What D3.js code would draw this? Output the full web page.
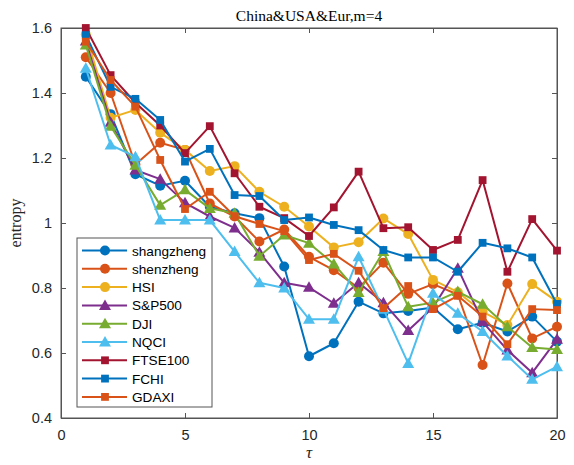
<!DOCTYPE html>
<html>
<head>
<meta charset="utf-8">
<script src="https://cdn.jsdelivr.net/npm/d3@7"></script>
<style>
  body { margin: 0; background: #fff; }
</style>
</head>
<body>
<div id="chart"></div>
<script>
// tau = 1..20
var taus = d3.range(1, 21);
var names = ["shangzheng", "shenzheng", "HSI", "S&P500", "DJI", "NQCI", "FTSE100", "FCHI", "GDAXI"];
var shangzheng = [1.45, 1.335, 1.15, 1.115, 1.13, 1.05, 1.03, 1.015, 0.866, 0.59, 0.63, 0.758, 0.722, 0.729, 0.74, 0.673, 0.693, 0.666, 0.712, 0.635];
var shenzheng = [1.51, 1.40, 1.18, 1.247, 1.225, 1.06, 1.02, 0.943, 0.98, 0.896, 0.855, 0.80, 0.878, 0.782, 0.812, 0.78, 0.563, 0.814, 0.645, 0.681];
var hsi = [1.58, 1.324, 1.348, 1.278, 1.225, 1.16, 1.175, 1.096, 1.05, 0.989, 0.925, 0.941, 1.014, 0.966, 0.825, 0.787, 0.727, 0.686, 0.812, 0.758];
var sp500 = [1.56, 1.31, 1.163, 1.135, 1.062, 1.02, 0.985, 0.91, 0.816, 0.802, 0.753, 0.816, 0.755, 0.669, 0.74, 0.861, 0.696, 0.609, 0.539, 0.642];
var dji = [1.548, 1.298, 1.178, 1.055, 1.102, 1.045, 1.03, 0.898, 0.963, 0.938, 0.874, 0.786, 0.912, 0.742, 0.755, 0.789, 0.75, 0.681, 0.617, 0.611];
var nqci = [1.476, 1.24, 1.204, 1.009, 1.009, 1.009, 0.912, 0.816, 0.80, 0.704, 0.704, 0.896, 0.735, 0.568, 0.784, 0.722, 0.666, 0.591, 0.519, 0.558];
var ftse100 = [1.60, 1.455, 1.37, 1.30, 1.215, 1.298, 1.153, 1.05, 1.015, 0.96, 1.048, 1.158, 0.984, 0.987, 0.917, 0.948, 1.132, 0.85, 1.012, 0.915];
var fchi = [1.578, 1.419, 1.382, 1.317, 1.189, 1.228, 1.086, 1.083, 1.009, 1.017, 0.994, 0.978, 0.917, 0.894, 0.894, 0.85, 0.939, 0.922, 0.894, 0.751];
var gdaxi = [1.558, 1.44, 1.358, 1.194, 1.043, 1.096, 1.021, 0.997, 0.975, 0.886, 0.905, 0.853, 0.738, 0.806, 0.735, 0.776, 0.712, 0.627, 0.735, 0.732];
var xTicks = [0, 5, 10, 15, 20];
var yTicks = [0.4, 0.6, 0.8, 1, 1.2, 1.4, 1.6];

var values = [shangzheng, shenzheng, hsi, sp500, dji, nqci, ftse100, fchi, gdaxi];
var colors = ["#0072BD", "#D95319", "#EDB120", "#7E2F8E", "#77AC30", "#4DBEEE", "#A2142F", "#0072BD", "#D95319"];
var shapes = ["circle", "circle", "circle", "triangle", "triangle", "triangle", "square", "square", "square"];

var width = 574, height = 465;
var margin = {top: 28, left: 61, right: 17, bottom: 47};
var w = width - margin.left - margin.right;
var h = height - margin.top - margin.bottom;

var x = d3.scaleLinear().domain([0, 20]).range([margin.left, margin.left + w]);
var y = d3.scaleLinear().domain([0.4, 1.6]).range([margin.top + h, margin.top]);

var svg = d3.select("#chart").append("svg")
    .attr("width", width)
    .attr("height", height);

var axisColor = "#555";
var tickFont = "'Liberation Sans', Arial, sans-serif";

// box + ticks (inward, all four sides)
svg.append("rect")
    .attr("x", margin.left).attr("y", margin.top)
    .attr("width", w).attr("height", h)
    .attr("fill", "none").attr("stroke", axisColor).attr("stroke-width", 1);

var xAxis = svg.append("g")
    .attr("transform", "translate(0," + (margin.top + h) + ")")
    .call(d3.axisBottom(x).tickValues(xTicks).tickSizeInner(-5).tickSizeOuter(0).tickPadding(12));
var xAxisTop = svg.append("g")
    .attr("transform", "translate(0," + margin.top + ")")
    .call(d3.axisTop(x).tickValues(xTicks).tickSizeInner(-5).tickSizeOuter(0).tickFormat(""));
var yAxis = svg.append("g")
    .attr("transform", "translate(" + margin.left + ",0)")
    .call(d3.axisLeft(y).tickValues(yTicks).tickSizeInner(-5).tickSizeOuter(0).tickPadding(9)
      .tickFormat(function (d) { return d3.format("")(+d.toFixed(1)); }));
var yAxisRight = svg.append("g")
    .attr("transform", "translate(" + (margin.left + w) + ",0)")
    .call(d3.axisRight(y).tickValues(yTicks).tickSizeInner(-5).tickSizeOuter(0).tickFormat(""));

[xAxis, xAxisTop, yAxis, yAxisRight].forEach(function (g) {
  g.select(".domain").attr("stroke", axisColor);
  g.selectAll(".tick line").attr("stroke", axisColor);
  g.selectAll("text")
      .attr("font-family", tickFont)
      .attr("font-size", "14.5px")
      .attr("fill", "#262626");
});

// title & labels
svg.append("text")
    .attr("x", margin.left + w / 2).attr("y", 21)
    .attr("text-anchor", "middle")
    .attr("font-family", "'Liberation Serif', 'Times New Roman', serif")
    .attr("font-size", "15.5px")
    .attr("fill", "#000")
    .text("China&USA&Eur,m=4");

svg.append("text")
    .attr("transform", "translate(21," + (margin.top + h / 2) + ") rotate(-90)")
    .attr("text-anchor", "middle")
    .attr("font-family", "'Liberation Serif', 'Times New Roman', serif")
    .attr("font-size", "16px")
    .attr("fill", "#262626")
    .text("entropy");

svg.append("text")
    .attr("x", margin.left + w / 2).attr("y", 458)
    .attr("text-anchor", "middle")
    .attr("font-family", "'Liberation Serif', 'Times New Roman', serif")
    .attr("font-style", "italic")
    .attr("font-size", "17px")
    .attr("fill", "#262626")
    .text("τ");

// markers
function drawMarker(g, shape, cx, cy, color) {
  if (shape === "circle") {
    g.append("circle").attr("cx", cx).attr("cy", cy).attr("r", 5).attr("fill", color);
  } else if (shape === "square") {
    g.append("rect").attr("x", cx - 3.9).attr("y", cy - 3.9).attr("width", 7.8).attr("height", 7.8).attr("fill", color);
  } else {
    var s = 6;
    g.append("path")
        .attr("d", "M" + cx + "," + (cy - s) + "L" + (cx + s) + "," + (cy + s * 0.75) + "L" + (cx - s) + "," + (cy + s * 0.75) + "Z")
        .attr("fill", color);
  }
}

var line = d3.line()
    .x(function (d) { return x(d.t); })
    .y(function (d) { return y(d.v); });

values.forEach(function (vals, k) {
  var pts = vals.map(function (v, i) { return {t: taus[i], v: v}; });
  var g = svg.append("g");
  g.append("path")
      .attr("d", line(pts))
      .attr("fill", "none")
      .attr("stroke", colors[k])
      .attr("stroke-width", 2)
      .attr("stroke-linejoin", "round");
  pts.forEach(function (p) {
    drawMarker(g, shapes[k], x(p.t), y(p.v), colors[k]);
  });
});

// legend
var lg = svg.append("g");
var lgX = 77, lgY = 238, lgW = 135, lgH = 169, rowH = 18.3;
lg.append("rect")
    .attr("x", lgX).attr("y", lgY).attr("width", lgW).attr("height", lgH)
    .attr("fill", "#fff").attr("stroke", axisColor).attr("stroke-width", 1);
names.forEach(function (n, k) {
  var cy = lgY + 12.5 + k * rowH;
  lg.append("line")
      .attr("x1", lgX + 5).attr("x2", lgX + 50)
      .attr("y1", cy).attr("y2", cy)
      .attr("stroke", colors[k]).attr("stroke-width", 2);
  drawMarker(lg, shapes[k], lgX + 28, cy, colors[k]);
  lg.append("text")
      .attr("x", lgX + 55).attr("y", cy + 5)
      .attr("font-family", tickFont)
      .attr("font-size", "13.6px")
      .attr("fill", "#000")
      .text(n);
});
</script>
</body>
</html>
